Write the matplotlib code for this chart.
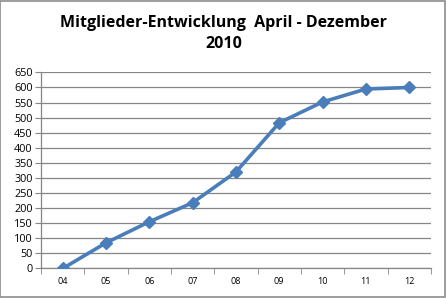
import numpy as np
import matplotlib
matplotlib.use('Agg')
import matplotlib.pyplot as plt
from matplotlib.patches import Rectangle

# data
months = ['04', '05', '06', '07', '08', '09', '10', '11', '12']
members = [0, 85, 155, 218, 320, 483, 552, 595, 600]
y_ticks = list(range(0, 651, 50))

LINE = '#4a7ebb'
GRID = '#868686'

plt.rcParams['font.family'] = ['Open Sans', 'DejaVu Sans']

fig = plt.figure(figsize=(4.46, 2.98), dpi=100)
fig.patch.set_facecolor('white')
fig.patches.append(Rectangle((0.001, 0.002), 0.996, 0.994, transform=fig.transFigure,
                             fill=False, edgecolor='#8c8c8c', lw=1.2))

ax = fig.add_axes([0.092, 0.099, 0.874, 0.658])
x = np.arange(len(months))
ax.plot(x, members, color=LINE, lw=2.6, marker='D', ms=6.5, mfc=LINE, mec=LINE, zorder=3)

ax.set_xlim(-0.5, len(months) - 0.5)
ax.set_ylim(0, 650)
ax.set_yticks(y_ticks)
ax.set_yticklabels([str(v) for v in y_ticks], fontsize=7.8)
ax.yaxis.grid(True, color=GRID, lw=0.9)
ax.set_axisbelow(True)

# category axis: labels at centres, tick marks at the boundaries
ax.set_xticks(x)
ax.set_xticklabels(months, fontsize=6.5)
ax.tick_params(axis='x', which='major', length=0, pad=6)
ax.set_xticks(np.arange(-0.5, len(months)), minor=True)
ax.tick_params(axis='x', which='minor', length=4, color=GRID, direction='out')
ax.tick_params(axis='y', length=4, color=GRID, pad=2)

for s in ['top', 'right']:
    ax.spines[s].set_visible(False)
for s in ['left', 'bottom']:
    ax.spines[s].set_color(GRID)
    ax.spines[s].set_linewidth(0.9)

fig.text(0.502, 0.888, 'Mitglieder-Entwicklung  April - Dezember\n2010',
         ha='center', va='center', fontsize=11.5, fontweight='bold',
         linespacing=1.45)

fig.savefig('out.png', dpi=100)
